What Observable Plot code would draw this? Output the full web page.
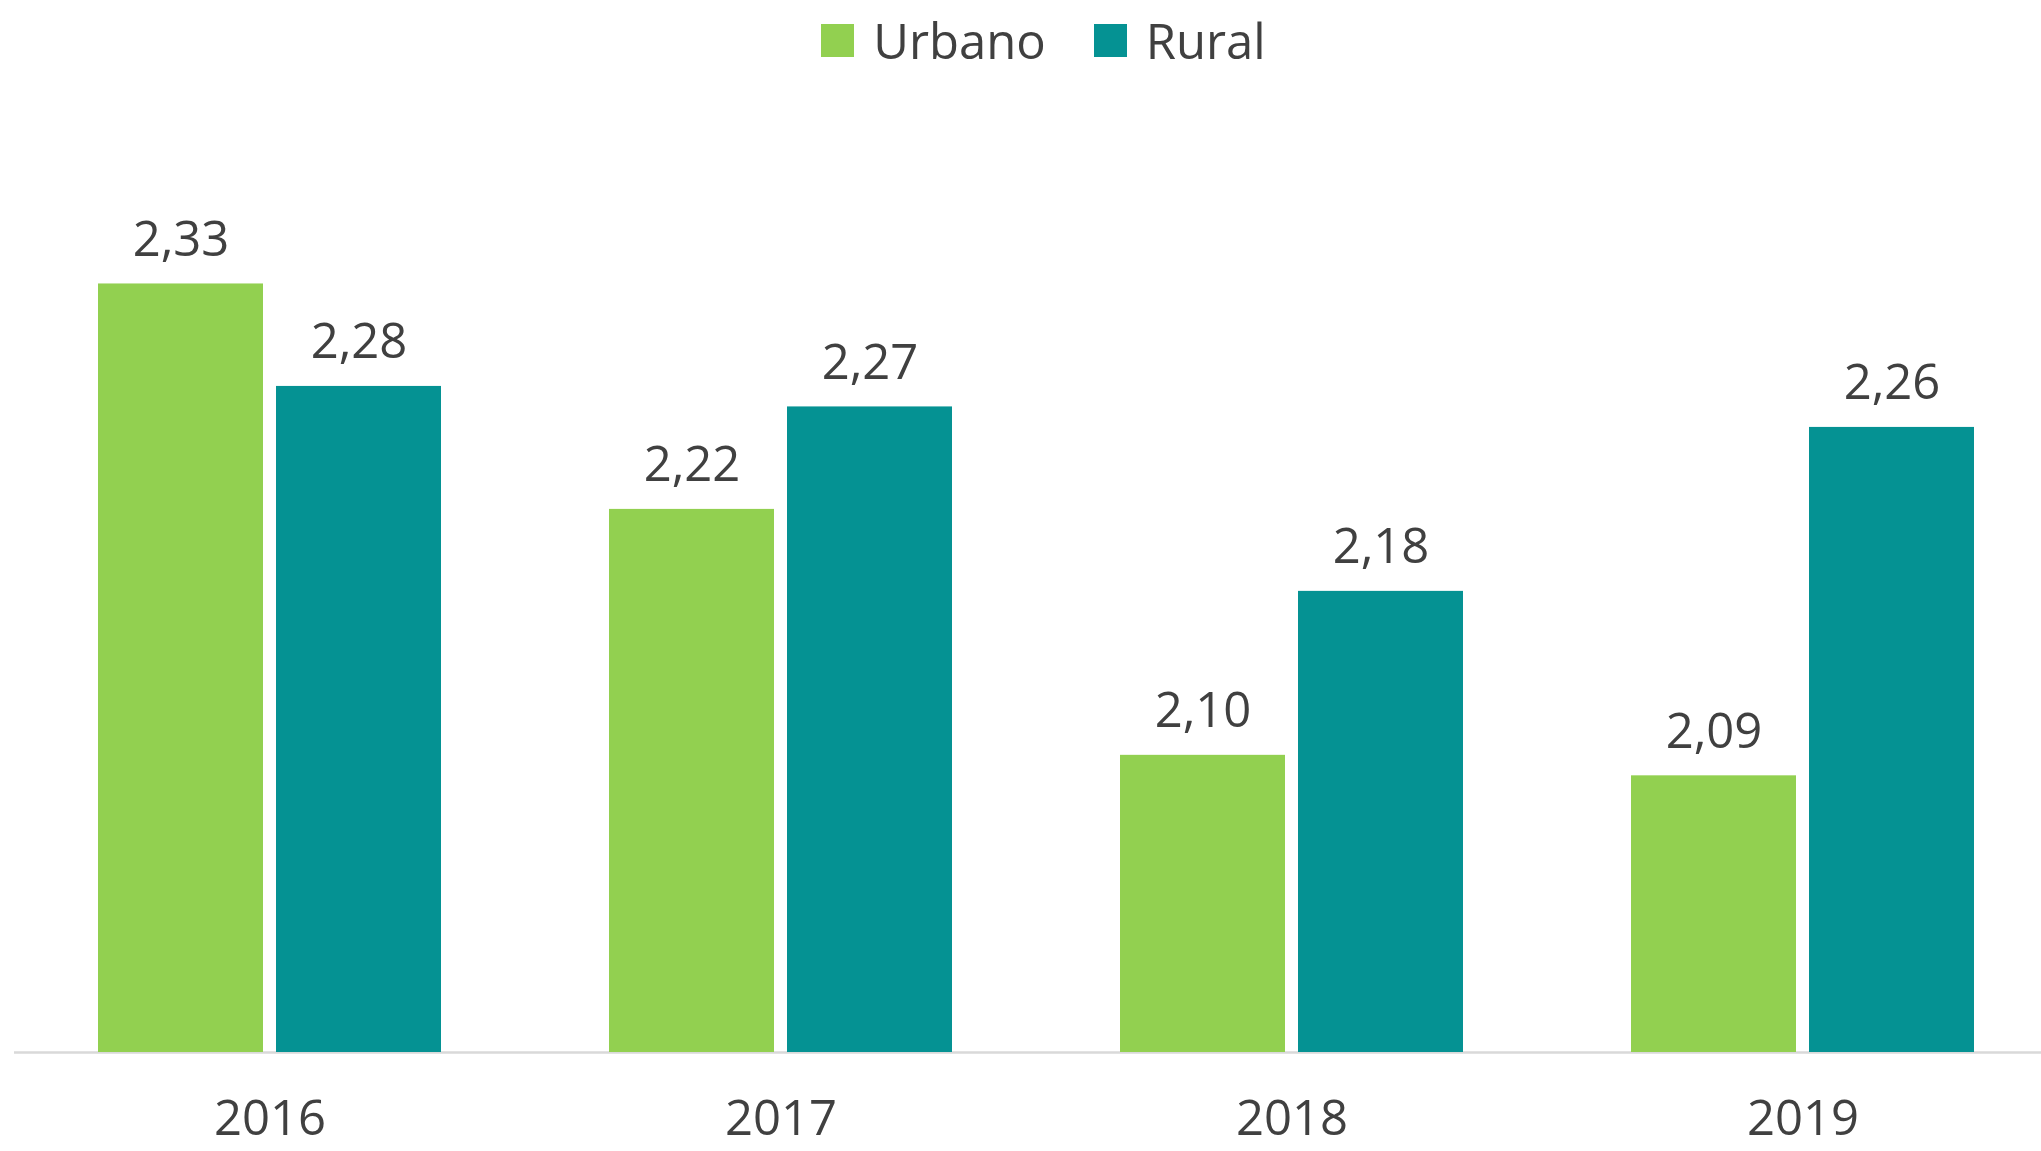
<!DOCTYPE html>
<html>
<head>
<meta charset="utf-8">
<script src="https://cdn.jsdelivr.net/npm/d3@7"></script>
<script src="https://cdn.jsdelivr.net/npm/@observablehq/plot@0.6"></script>
<style>
  html, body { margin: 0; padding: 0; background: #fff; }
  body { width: 2041px; height: 1151px; overflow: hidden; font-family: "Open Sans", sans-serif; color: #404040; }
  #legend { height: 80px; display: flex; justify-content: center; align-items: center; padding-left: 46px; box-sizing: border-box; font-size: 49px; }
  .item { display: flex; align-items: center; margin: 0 24px; }
  .swatch { width: 33px; height: 33px; margin-right: 19px; }
</style>
</head>
<body>
<div id="legend"></div>
<div id="chart"></div>
<script>
const years = ["2016", "2017", "2018", "2019"];
const seriesNames = ["Urbano", "Rural"];
const urbano = [2.33, 2.22, 2.10, 2.09];
const rural = [2.28, 2.27, 2.18, 2.26];
const colors = ["#92D050", "#059293"];

const data = [];
years.forEach((y, i) => {
  data.push({year: y, series: "Urbano", value: urbano[i]});
  data.push({year: y, series: "Rural", value: rural[i]});
});

const legend = document.getElementById("legend");
seriesNames.forEach((s, i) => {
  const it = document.createElement("div");
  it.className = "item";
  const sw = document.createElement("div");
  sw.className = "swatch";
  sw.style.background = colors[i];
  const t = document.createElement("span");
  t.textContent = s;
  it.appendChild(sw); it.appendChild(t);
  legend.appendChild(it);
});

const fmt = v => d3.format(".2f")(v).replace(".", ",");
const yMin = 1.955;

const chart = Plot.plot({
  width: 2041,
  height: 1071,
  marginLeft: 12,
  marginRight: 0,
  marginTop: 60,
  marginBottom: 99,
  style: {fontFamily: "Open Sans", fontSize: "49px", color: "#404040", background: "#fff"},
  fx: {domain: years, range: [12.4, 2058.8], paddingInner: 0, paddingOuter: 0, axis: "bottom", tickSize: 0, tickPadding: 48, label: null},
  x: {domain: seriesNames, paddingInner: 0.073, paddingOuter: 0.471, axis: null},
  y: {domain: [yMin, 2.40], axis: null},
  color: {domain: seriesNames, range: colors},
  marks: [
    Plot.ruleY([yMin], {stroke: "#d9d9d9", strokeWidth: 2.5}),
    Plot.barY(data, {fx: "year", x: "series", y1: yMin, y2: "value", fill: "series"}),
    Plot.text(data, {fx: "year", x: "series", y: "value", text: d => fmt(d.value), dy: -44, fontSize: 49, fill: "#404040"})
  ]
});
document.getElementById("chart").appendChild(chart);
</script>
</body>
</html>
